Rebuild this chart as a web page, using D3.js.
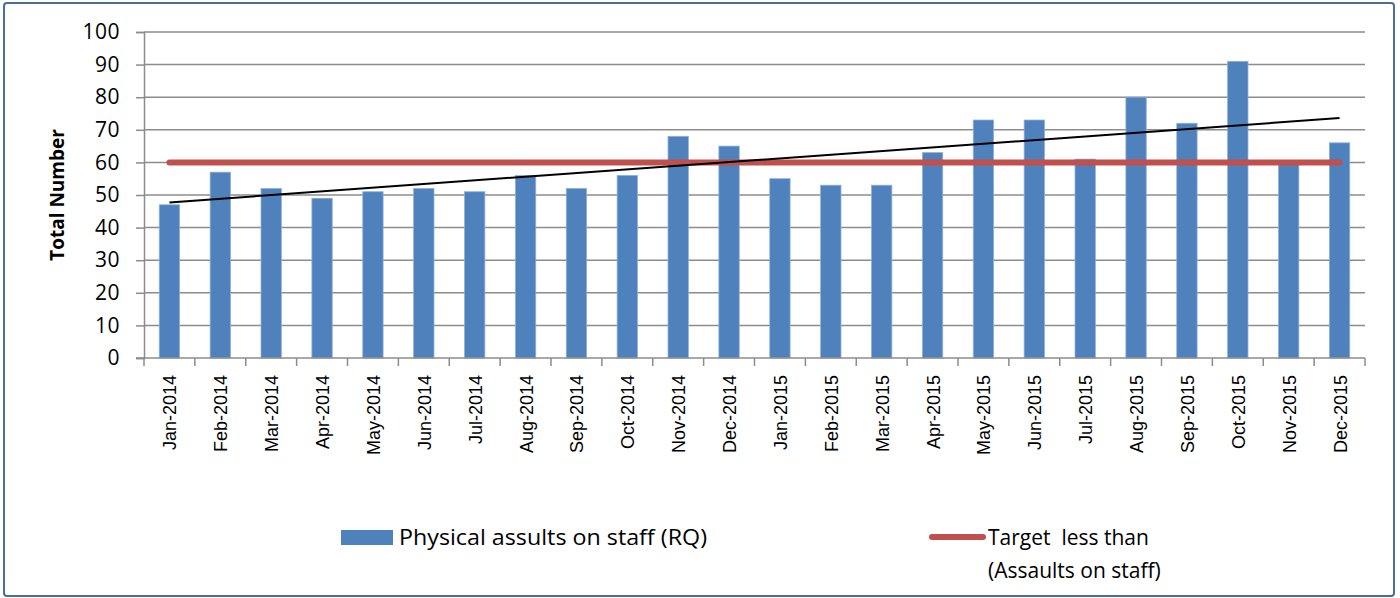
<!DOCTYPE html>
<html>
<head>
<meta charset="utf-8">
<script src="https://cdn.jsdelivr.net/npm/d3@7"></script>
<style>
body { margin: 0; background: #fff; }
svg { display: block; }
</style>
</head>
<body>
<div id="chart"></div>
<script>
var months = ["Jan-2014", "Feb-2014", "Mar-2014", "Apr-2014", "May-2014", "Jun-2014",
  "Jul-2014", "Aug-2014", "Sep-2014", "Oct-2014", "Nov-2014", "Dec-2014",
  "Jan-2015", "Feb-2015", "Mar-2015", "Apr-2015", "May-2015", "Jun-2015",
  "Jul-2015", "Aug-2015", "Sep-2015", "Oct-2015", "Nov-2015", "Dec-2015"];
var assaults = [47, 57, 52, 49, 51, 52, 51, 56, 52, 56, 68, 65,
  55, 53, 53, 63, 73, 73, 61, 80, 72, 91, 60, 66];
var target = [60, 60, 60, 60, 60, 60, 60, 60, 60, 60, 60, 60,
  60, 60, 60, 60, 60, 60, 60, 60, 60, 60, 60, 60];
var yTicks = [0, 10, 20, 30, 40, 50, 60, 70, 80, 90, 100];

var width = 1400, height = 598;
var plotLeft = 144, plotRight = 1365, plotTop = 32, plotBottom = 358;

var svg = d3.select("#chart").append("svg")
  .attr("width", width)
  .attr("height", height);

// outer border
svg.append("rect")
  .attr("x", 4).attr("y", 3)
  .attr("width", 1390).attr("height", 593)
  .attr("rx", 3)
  .attr("fill", "#fff")
  .attr("stroke", "#4a6da0")
  .attr("stroke-width", 2);

var x = d3.scaleBand()
  .domain(months)
  .range([plotLeft, plotRight])
  .paddingInner(0.6)
  .paddingOuter(0.3);

var y = d3.scaleLinear()
  .domain([0, 100])
  .range([plotBottom, plotTop]);

// gridlines
svg.append("g")
  .selectAll("line")
  .data(yTicks.filter(function(d) { return d > 0; }))
  .enter()
  .append("line")
  .attr("x1", plotLeft).attr("x2", plotRight)
  .attr("y1", function(d) { return y(d); })
  .attr("y2", function(d) { return y(d); })
  .attr("stroke", "#8c8c8c")
  .attr("stroke-width", 1.5);

// y axis
var yAxis = svg.append("g")
  .attr("transform", "translate(" + plotLeft + ",0)")
  .call(d3.axisLeft(y).tickValues(yTicks).tickSize(8).tickPadding(16));
yAxis.select(".domain").attr("stroke", "#8c8c8c").attr("stroke-width", 1.5);
yAxis.selectAll(".tick line").attr("stroke", "#8c8c8c").attr("stroke-width", 1.5);
yAxis.selectAll("text")
  .attr("font-family", "Open Sans, sans-serif")
  .attr("font-size", "21px")
  .attr("letter-spacing", "0.5px")
  .attr("fill", "#000");

// bars
svg.append("g")
  .selectAll("rect")
  .data(assaults)
  .enter()
  .append("rect")
  .attr("x", function(d, i) { return x(months[i]); })
  .attr("y", function(d) { return y(d); })
  .attr("width", x.bandwidth())
  .attr("height", function(d) { return y(0) - y(d); })
  .attr("fill", "#4f81bd")
  .attr("stroke", "#8fb0da")
  .attr("stroke-width", 0.8);

// x axis
var xAxisG = svg.append("g");
xAxisG.append("line")
  .attr("x1", plotLeft - 8).attr("x2", plotRight)
  .attr("y1", plotBottom).attr("y2", plotBottom)
  .attr("stroke", "#8c8c8c").attr("stroke-width", 1.5);
xAxisG.selectAll("line.tk")
  .data(d3.range(months.length + 1))
  .enter()
  .append("line")
  .attr("class", "tk")
  .attr("x1", function(i) { return plotLeft + i * (plotRight - plotLeft) / months.length; })
  .attr("x2", function(i) { return plotLeft + i * (plotRight - plotLeft) / months.length; })
  .attr("y1", plotBottom).attr("y2", plotBottom + 8)
  .attr("stroke", "#8c8c8c").attr("stroke-width", 1.5);
xAxisG.selectAll("text")
  .data(months)
  .enter()
  .append("text")
  .attr("transform", function(d) {
    var c = x(d) + x.bandwidth() / 2;
    return "translate(" + (c + 7) + "," + (plotBottom + 17) + ") rotate(-90)";
  })
  .attr("text-anchor", "end")
  .attr("font-family", "Liberation Sans, Arial, sans-serif")
  .attr("font-size", "18px")
  .text(function(d) { return d; });

// target line
var cx = function(i) { return x(months[i]) + x.bandwidth() / 2; };
var line = d3.line()
  .x(function(d, i) { return cx(i); })
  .y(function(d) { return y(d); });
svg.append("path")
  .datum(target)
  .attr("d", line)
  .attr("fill", "none")
  .attr("stroke", "#c0504d")
  .attr("stroke-width", 6)
  .attr("stroke-linecap", "round");

// linear trendline (least squares over the bar values)
var n = assaults.length;
var xs = d3.range(1, n + 1);
var mx = d3.mean(xs), my = d3.mean(assaults);
var sxy = d3.sum(xs, function(v, i) { return (v - mx) * (assaults[i] - my); });
var sxx = d3.sum(xs, function(v) { return (v - mx) * (v - mx); });
var slope = sxy / sxx;
var icpt = my - slope * mx;
svg.append("line")
  .attr("x1", cx(0)).attr("y1", y(icpt + slope * 1))
  .attr("x2", cx(n - 1)).attr("y2", y(icpt + slope * n))
  .attr("stroke", "#000")
  .attr("stroke-width", 2);

// y axis title
svg.append("text")
  .attr("transform", "translate(64,195) rotate(-90)")
  .attr("text-anchor", "middle")
  .attr("font-family", "Open Sans, sans-serif")
  .attr("font-weight", "bold")
  .attr("font-size", "19px")
  .text("Total Number");

// legend
var legend = svg.append("g")
  .attr("font-family", "Open Sans, sans-serif")
  .attr("font-size", "21px");
legend.append("rect")
  .attr("x", 341).attr("y", 530)
  .attr("width", 52).attr("height", 15)
  .attr("fill", "#4f81bd");
legend.append("text")
  .attr("x", 399).attr("y", 545)
  .attr("textLength", 308)
  .attr("lengthAdjust", "spacingAndGlyphs")
  .text("Physical assults on staff (RQ)");
legend.append("line")
  .attr("x1", 932).attr("x2", 983)
  .attr("y1", 537).attr("y2", 537)
  .attr("stroke", "#c0504d")
  .attr("stroke-width", 6)
  .attr("stroke-linecap", "round");
legend.append("text")
  .attr("x", 988).attr("y", 545)
  .attr("xml:space", "preserve")
  .text("Target  less than");
legend.append("text")
  .attr("x", 988).attr("y", 578)
  .text("(Assaults on staff)");
</script>
</body>
</html>
